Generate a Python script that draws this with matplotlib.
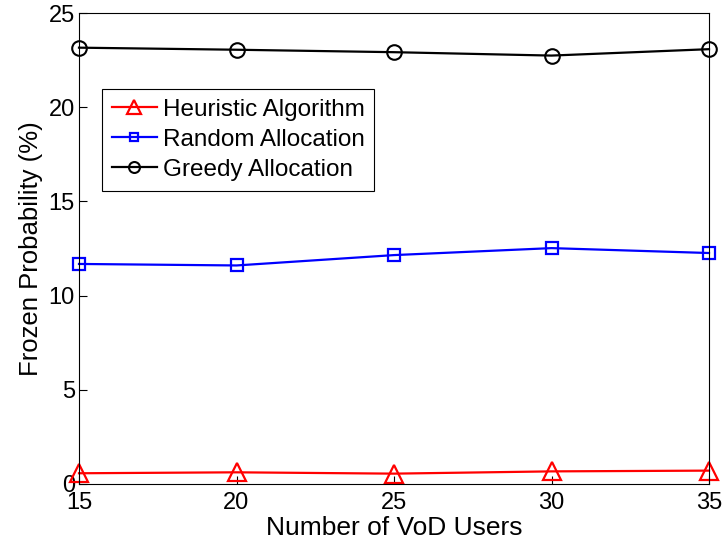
import matplotlib
matplotlib.use("Agg")
from matplotlib import pyplot as plt

users = [15, 20, 25, 30, 35]
heuristic = [0.57, 0.62, 0.55, 0.67, 0.71]
random_alloc = [11.68, 11.60, 12.15, 12.52, 12.26]
greedy = [23.16, 23.05, 22.92, 22.74, 23.08]

plt.rcParams["font.family"] = ["Liberation Sans", "DejaVu Sans"]
plt.rcParams["font.size"] = 17

fig = plt.figure(figsize=(7.25, 5.46), dpi=100)
ax = fig.add_axes([79 / 725, 1 - 484 / 546, 630 / 725, 471 / 546])

ax.plot(users, heuristic, color="red", marker="^", markersize=12.5, markerfacecolor="none",
        markeredgewidth=1.6, linewidth=1.6, label="Heuristic Algorithm", clip_on=False)
ax.plot(users, random_alloc, color="blue", marker="s", markersize=8, markerfacecolor="none",
        markeredgewidth=1.6, linewidth=1.6, label="Random Allocation", clip_on=False)
ax.plot(users, greedy, color="black", marker="o", markersize=10.5, markerfacecolor="none",
        markeredgewidth=1.5, linewidth=1.6, label="Greedy Allocation", clip_on=False)

ax.set_xlim(15, 35)
ax.set_ylim(0, 25)
ax.set_xticks(users)
ax.set_yticks([0, 5, 10, 15, 20, 25])
ax.tick_params(direction="in", length=6, width=0.8, top=False, right=False)
ax.tick_params(axis="x", pad=6)
ax.tick_params(axis="y", pad=3)
for s in ax.spines.values():
    s.set_linewidth(0.8)
ax.set_xlabel("Number of VoD Users", fontsize=19, labelpad=1)
ax.set_ylabel("Frozen Probability (%)", fontsize=18.5, labelpad=4)

leg = ax.legend(loc="upper left", bbox_to_anchor=(0.0365, 0.8386), fancybox=False, framealpha=1,
                edgecolor="black", borderpad=0.4, labelspacing=0.33, handlelength=1.85,
                handletextpad=0.25, borderaxespad=0, fontsize=17.5, markerscale=0.75)
leg.get_frame().set_linewidth(0.8)

fig.savefig("out.png", dpi=100)
